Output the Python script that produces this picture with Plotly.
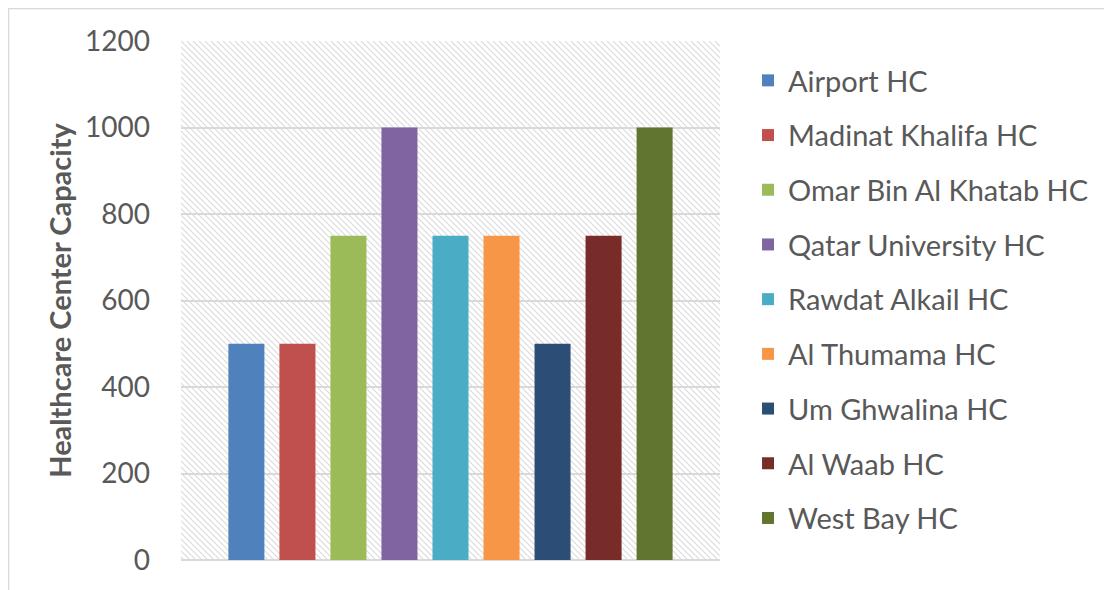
import base64
import plotly.graph_objects as go

categories = ["Capacity"]
series_names = ["Airport HC", "Madinat Khalifa HC", "Omar Bin Al Khatab HC",
                "Qatar University HC", "Rawdat Alkail HC", "Al Thumama HC",
                "Um Ghwalina HC", "Al Waab HC", "West Bay HC"]
series_values = [500, 500, 750, 1000, 750, 750, 500, 750, 1000]
series_colors = ["#4F81BD", "#C0504D", "#9BBB59", "#8064A2", "#4BACC6",
                 "#F79646", "#2C4D75", "#772C2A", "#5F7530"]
y_ticks = [0, 200, 400, 600, 800, 1000, 1200]

FONT = "Lato"
GREY = "#595959"

W, H = 1104, 582
L, T, PW, PH = 173, 33, 539, 519

fig = go.Figure()
for name, val, col in zip(series_names, series_values, series_colors):
    fig.add_trace(go.Bar(x=categories, y=[val], name=name, marker_color=col,
                         marker_line_width=0, legendgroup=name))

# hatched plot-area background
svg = ('<svg xmlns="http://www.w3.org/2000/svg" width="539" height="519">'
       '<defs><pattern id="p" width="6" height="6" patternUnits="userSpaceOnUse">'
       '<path d="M-1,-1 L7,7 M-1,5 L1,7 M5,-1 L7,1" stroke="#dadada" stroke-width="1.1"/>'
       '</pattern></defs><rect width="539" height="519" fill="url(#p)"/></svg>')
uri = "data:image/svg+xml;base64," + base64.b64encode(svg.encode()).decode()
fig.add_layout_image(dict(source=uri, xref="paper", yref="paper", x=0, y=1,
                          sizex=1, sizey=1, sizing="stretch", layer="below",
                          xanchor="left", yanchor="top"))

# chart-area border (Excel style)
fig.add_shape(type="rect", xref="paper", yref="paper",
              x0=(0.5 - L) / PW, x1=3, y0=-1, y1=(T + PH - 0.5) / PH,
              line=dict(color="#d9d9d9", width=1.5), fillcolor="rgba(0,0,0,0)")

fig.update_layout(
    width=W, height=H,
    margin=dict(l=L, r=W - L - PW, t=T, b=H - T - PH),
    paper_bgcolor="white", plot_bgcolor="rgba(0,0,0,0)",
    barmode="group", bargap=0.148, bargroupgap=0.294,
    font=dict(family=FONT, color=GREY),
    showlegend=True,
    legend=dict(x=1.052, y=0.973, xanchor="left", yanchor="top",
                font=dict(family=FONT, size=29, color=GREY),
                traceorder="grouped", tracegroupgap=14,
                itemwidth=30),
)
fig.update_xaxes(showticklabels=False, showgrid=False, zeroline=False,
                 showline=False, ticks="")
fig.update_yaxes(range=[0, 1200], tickvals=y_ticks, showgrid=True,
                 gridcolor="#d9d9d9", gridwidth=1.5, zeroline=True,
                 zerolinecolor="#d9d9d9", zerolinewidth=1.5,
                 tickfont=dict(family=FONT, size=28, color=GREY),
                 ticklabelstandoff=30,
                 title=dict(text="<b>Healthcare Center Capacity</b>",
                            font=dict(family=FONT, size=29, color=GREY),
                            standoff=4))

fig.write_html("out.html")
